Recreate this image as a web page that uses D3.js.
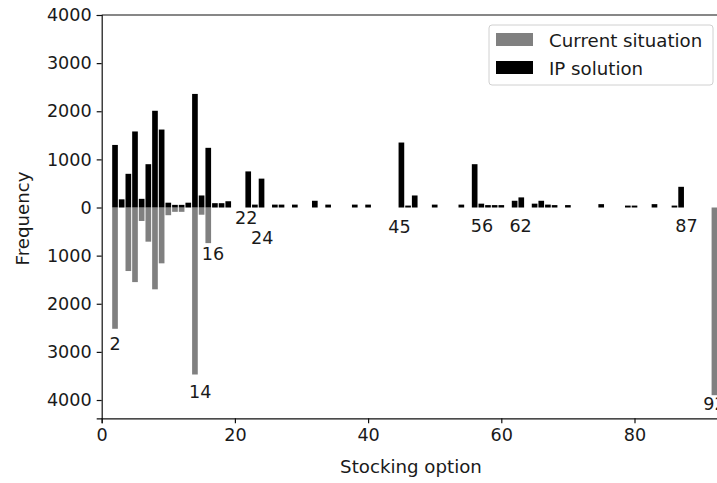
<!DOCTYPE html>
<html>
<head>
<meta charset="utf-8">
<script src="https://cdn.jsdelivr.net/npm/d3@7"></script>
<style>
  html, body { margin: 0; padding: 0; background: #fff; }
  svg { display: block; }
  text { font-family: "DejaVu Sans", sans-serif; fill: #1a1a1a; }
</style>
</head>
<body>
<svg id="chart" width="717" height="483"></svg>
<script>
// ---- data ----
const ipOptions = [2,3,4,5,6,7,8,9,10,11,12,13,14,15,16,17,18,19,22,23,24,26,27,29,32,34,38,40,45,46,47,50,54,56,57,58,59,60,62,63,65,66,67,68,70,75,79,80,83,86,87];
const ipValues  = [1300,170,700,1580,180,900,2010,1620,100,55,55,100,2360,250,1240,90,90,130,750,60,600,60,60,60,140,60,60,60,1350,40,250,60,60,900,80,50,50,50,140,210,80,140,60,50,50,70,40,40,70,40,430];

const curOptions = [2,4,5,6,7,8,9,10,11,12,14,15,16,92];
const curValues  = [2520,1320,1550,280,710,1700,1160,160,90,90,3470,150,740,3900];

const labelTexts = ["2","14","16","22","24","45","56","62","87","92"];
const labelX     = [2.0,14.8,16.7,21.7,24.1,44.7,57.1,62.9,87.8,92.0];
const labelY     = [-2828,-3825,-956,-208,-624,-395,-374,-374,-374,-4075];

const xTicks = [0,20,40,60,80];
const yTicks = [-4000,-3000,-2000,-1000,0,1000,2000,3000,4000];

const seriesNames = ["Current situation","IP solution"];
const seriesColors = ["#808080","#000000"];

// ---- layout ----
const svg = d3.select("#chart");
const FS = 17.6;
const FL = 18.2;
const x = d3.scaleLinear().domain([0, 100]).range([101.7, 101.7 + 666]);
const y = d3.scaleLinear().domain([-4380, 4000]).range([418.3, 15]);
const bw = 0.85;

// bars: current situation (downwards)
svg.append("g").selectAll("rect")
  .data(curOptions.map((o,i)=>({o, v: curValues[i]})))
  .join("rect")
  .attr("x", d => x(d.o - bw/2))
  .attr("width", d => x(bw) - x(0))
  .attr("y", y(0))
  .attr("height", d => y(-d.v) - y(0))
  .attr("fill", seriesColors[0]);

// bars: IP solution (upwards)
svg.append("g").selectAll("rect")
  .data(ipOptions.map((o,i)=>({o, v: ipValues[i]})))
  .join("rect")
  .attr("x", d => x(d.o - bw/2))
  .attr("width", d => x(bw) - x(0))
  .attr("y", d => y(d.v))
  .attr("height", d => y(0) - y(d.v))
  .attr("fill", seriesColors[1]);

// labels
svg.append("g").selectAll("text")
  .data(labelTexts.map((t,i)=>({t, x: labelX[i], y: labelY[i]})))
  .join("text")
  .attr("x", d => x(d.x))
  .attr("y", d => y(d.y))
  .attr("dy", "0.36em")
  .attr("text-anchor", "middle")
  .attr("font-size", FS)
  .text(d => d.t);

// axes
const xAxis = d3.axisBottom(x).tickValues(xTicks).tickSize(5).tickPadding(5).tickFormat(d3.format("d"));
const yAxis = d3.axisLeft(y).tickValues(yTicks).tickSize(5).tickPadding(5).tickFormat(d => String(Math.abs(d)));

const gx = svg.append("g").attr("transform", `translate(0,${y(-4380)})`).call(xAxis);
const gy = svg.append("g").attr("transform", `translate(${x(0)},0)`).call(yAxis);
[gx, gy].forEach(g => {
  g.selectAll("path").attr("stroke", "#111").attr("stroke-width", 1.2);
  g.selectAll("line").attr("stroke", "#111").attr("stroke-width", 1.2);
  g.selectAll("text").attr("font-size", FS).attr("font-family", "DejaVu Sans").attr("fill", "#1a1a1a");
});
// top spine
svg.append("line")
  .attr("x1", x(0)).attr("x2", 717)
  .attr("y1", y(4000)).attr("y2", y(4000))
  .attr("stroke", "#111").attr("stroke-width", 1.2);

// axis titles
svg.append("text")
  .attr("x", 411).attr("y", 473)
  .attr("text-anchor", "middle").attr("font-size", FL)
  .text("Stocking option");
svg.append("text")
  .attr("transform", `translate(29,${y(0)+11}) rotate(-90)`)
  .attr("text-anchor", "middle").attr("font-size", FL)
  .text("Frequency");

// legend
const lg = svg.append("g");
lg.append("rect").attr("x", 489).attr("y", 25).attr("width", 224).attr("height", 60)
  .attr("rx", 3).attr("fill", "#fff").attr("fill-opacity", 0.8)
  .attr("stroke", "#d0d0d0").attr("stroke-width", 1);
seriesNames.forEach((n, i) => {
  lg.append("rect").attr("x", 496).attr("y", 33 + i*28).attr("width", 37).attr("height", 13)
    .attr("fill", seriesColors[i]);
  lg.append("text").attr("x", 549).attr("y", 40 + i*28).attr("dy", "0.36em")
    .attr("font-size", FL).text(n);
});
</script>
</body>
</html>
